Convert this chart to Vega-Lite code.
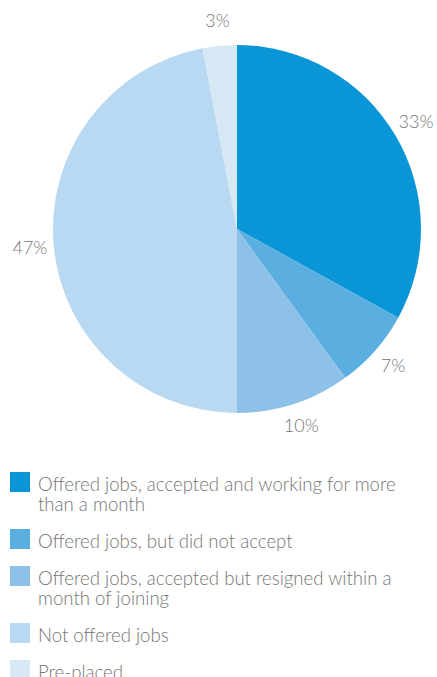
{
  "$schema": "https://vega.github.io/schema/vega-lite/v6.json",
  "autosize": "none",
  "width": 400,
  "height": 458,
  "padding": {"left": 37, "top": 0, "right": 0, "bottom": 219},
  "background": "white",
  "config": {"view": {"stroke": null}, "font": "Lato"},
  "data": {"values": [
    {"status": "Offered jobs, accepted and working for more than a month", "pct": 33, "label": "33%", "ord": 1},
    {"status": "Offered jobs, but did not accept", "pct": 7, "label": "7%", "ord": 2},
    {"status": "Offered jobs, accepted but resigned within a month of joining", "pct": 10, "label": "10%", "ord": 3},
    {"status": "Not offered jobs", "pct": 47, "label": "47%", "ord": 4},
    {"status": "Pre-placed", "pct": 3, "label": "3%", "ord": 5}
  ]},
  "encoding": {
    "theta": {"field": "pct", "type": "quantitative", "stack": true},
    "order": {"field": "ord", "type": "quantitative"}
  },
  "layer": [
    {
      "mark": {"type": "arc", "outerRadius": 184},
      "encoding": {
        "color": {
          "field": "status", "type": "nominal",
          "scale": {
            "domain": ["Offered jobs, accepted and working for more than a month", "Offered jobs, but did not accept", "Offered jobs, accepted but resigned within a month of joining", "Not offered jobs", "Pre-placed"],
            "range": ["#0995d6", "#5aaee0", "#8ec1e8", "#b9d8f1", "#d7e8f5"]
          },
          "legend": {
            "title": null,
            "orient": "none",
            "legendX": -27,
            "legendY": 472,
            "padding": 0,
            "symbolType": "square",
            "symbolSize": 400,
            "symbolStrokeWidth": 0,
            "labelFont": "Lato",
            "labelFontWeight": 300,
            "labelFontSize": 18.6,
            "labelColor": "#757575",
            "labelOffset": 8,
            "labelLimit": 500,
            "labelBaseline": "alphabetic",
            "labelLineHeight": 24,
            "rowPadding": 14,
            "encode": {"labels": {"update": {"dy": {"value": 8.5}}}},
            "labelExpr": "datum.label == 'Offered jobs, accepted and working for more than a month' ? ['Offered jobs, accepted and working for more', 'than a month'] : datum.label == 'Offered jobs, accepted but resigned within a month of joining' ? ['Offered jobs, accepted but resigned within a', 'month of joining'] : datum.label"
          }
        }
      }
    },
    {
      "mark": {"type": "text", "radius": 208, "font": "Lato", "fontWeight": 300, "fontSize": 18, "color": "#757575"},
      "encoding": {"text": {"field": "label"}}
    }
  ]
}
